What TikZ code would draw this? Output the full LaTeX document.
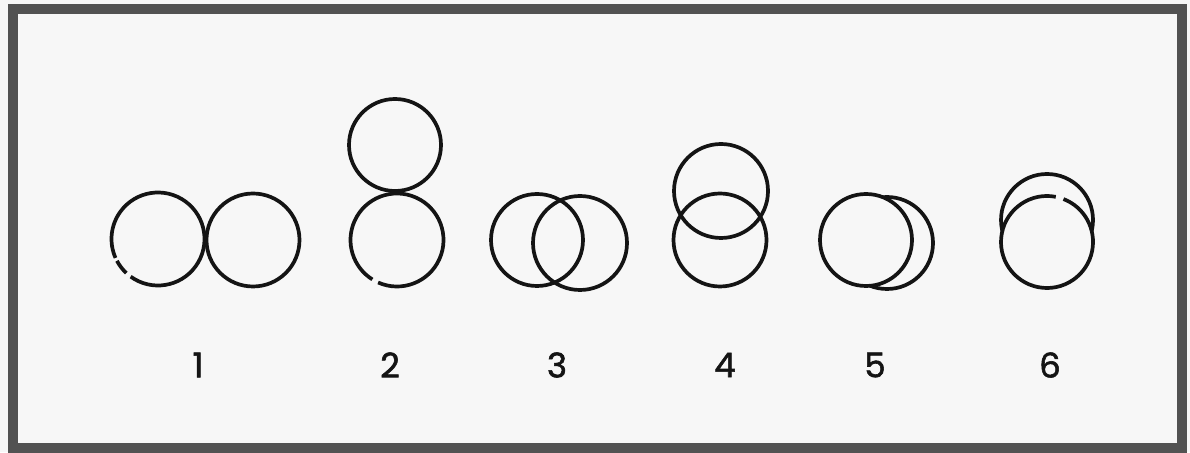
\documentclass[tikz,border=0pt]{standalone}
\usepackage{fontspec}
\setmainfont{Poppins}
\newfontfamily\digitfont[FakeBold=1.6]{Poppins}
\definecolor{bgpaper}{RGB}{247,247,247}
\definecolor{framegray}{RGB}{82,82,82}
\definecolor{ink}{RGB}{20,20,20}
\tikzset{
  ring/.style={draw=ink, line width=3.7pt},
  label/.style={font=\digitfont\fontsize{34}{36}\selectfont, text=ink, inner sep=0pt, anchor=center},
}
\begin{document}
\begin{tikzpicture}[x=1pt,y=1pt]
\useasboundingbox (0,0) rectangle (1190,452);
\fill[bgpaper] (0,0) rectangle (1190,452);
\draw[framegray, line width=10pt] (12.5,4) rectangle (1182,443);

% pair 1 (left circle with small print gaps)
\draw[ring] ([shift={(234:46.5)}]158,213) arc[start angle=234, end angle=564, radius=46.5];
\draw[ring] ([shift={(208:46.5)}]158,213) arc[start angle=208, end angle=227, radius=46.5];
\draw[ring] (253,212) circle[radius=46.5];

% pair 2
\draw[ring] (395,307) circle[radius=46];
\draw[ring] ([shift={(246:46.5)}]397,212) arc[start angle=246, end angle=598, radius=46.5];

% pair 3
\draw[ring] (537,212) circle[radius=46];
\draw[ring] (580,209) circle[radius=47];

% pair 4
\draw[ring] (721,261) circle[radius=47];
\draw[ring] (720,212) circle[radius=46.5];

% pair 5 (front circle hides back one)
\draw[ring] (887,209) circle[radius=46];
\draw[ring, fill=bgpaper] (866,212) circle[radius=46];

% pair 6
\draw[ring] (1047,232) circle[radius=46];
\fill[bgpaper] (1047,210) circle[radius=46];
\draw[ring] ([shift={(79:46)}]1047,210) arc[start angle=79, end angle=429, radius=46];

% labels
\node[label] (l1) at (198,87) {1};
\node[label] (l2) at (390,87) {2};
\node[label] (l3) at (557,87) {3};
\node[label] (l4) at (725,87) {4};
\node[label] (l5) at (875,87) {5};
\node[label] (l6) at (1050,87) {6};
\end{tikzpicture}
\end{document}
